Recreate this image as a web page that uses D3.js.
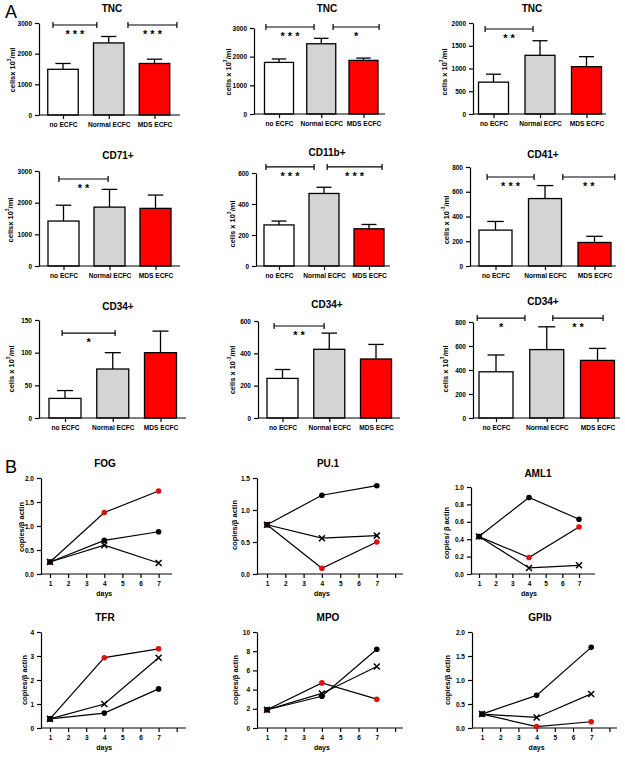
<!DOCTYPE html>
<html><head><meta charset="utf-8">
<script src="https://cdn.jsdelivr.net/npm/d3@7"></script>
<style>
body{margin:0;background:#fff;}
svg{display:block;font-family:Arial,"Liberation Sans",sans-serif;}
.tick text{font-weight:bold;}
</style></head>
<body>
<svg id="fig" width="625" height="765"></svg>
<script>
// ---------- DATA ----------
const categories = ["no ECFC", "Normal ECFC", "MDS ECFC"];
const barTitles = ["TNC", "TNC", "TNC", "CD71+", "CD11b+", "CD41+", "CD34+", "CD34+", "CD34+"];
const barMeans = [
  [1490, 2350, 1680],
  [1800, 2450, 1870],
  [700, 1290, 1040],
  [1420, 1860, 1820],
  [265, 468, 240],
  [290, 545, 190],
  [30, 75, 100],
  [245, 425, 365],
  [385, 570, 480]
];
const barErrors = [
  [190, 210, 140],
  [120, 190, 80],
  [175, 320, 220],
  [500, 560, 420],
  [25, 40, 28],
  [70, 105, 50],
  [12, 25, 33],
  [55, 100, 90],
  [140, 190, 100]
];
const barYTicks = [
  [0, 1000, 2000, 3000],
  [0, 1000, 2000, 3000],
  [0, 500, 1000, 1500, 2000],
  [0, 1000, 2000, 3000],
  [0, 200, 400, 600],
  [0, 200, 400, 600, 800],
  [0, 50, 100, 150],
  [0, 200, 400, 600],
  [0, 200, 400, 600, 800]
];
const barYLabelPre = ["cellsx 10", "cells x 10", "cells x 10", "cellsx 10", "cells x 10", "cells x 10", "cells x 10", "cells x 10", "cells x 10"];
const barYLabelSup = ["3", "3", "3", "3", "3", "-3", "3", "-3", "3"];
// significance brackets: [from (category index), to (category index), level (data units), stars]
const sigBars = [
  [[-0.22, 0.74, 2935, "* * *"], [1.42, 2.49, 2935, "* * *"]],
  [[-0.31, 0.83, 3035, "* * *"], [1.28, 2.37, 3035, "*"]],
  [[-0.18, 0.85, 1868, "* *"]],
  [[-0.10, 0.97, 2747, "* *"]],
  [[-0.29, 0.78, 639, "* * *"], [1.07, 2.29, 639, "* * *"]],
  [[-0.17, 0.78, 719, "* * *"], [1.36, 2.41, 719, "* *"]],
  [[-0.06, 1.05, 130, "*"]],
  [[-0.18, 0.89, 569, "* *"]],
  [[-0.37, 0.57, 833, "*"], [1.12, 2.11, 833, "* *"]]
];

const days = [1, 4, 7];
const dayTickLabels = [1, 2, 3, 4, 5, 6, 7];
const lineTitles = ["FOG", "PU.1", "AML1", "TFR", "MPO", "GPIb"];
const lineYLabels = ["copies/\u03b2 actin", "copies/\u03b2 actin", "copies/ \u03b2 actin", "copies/\u03b2 actin", "copies/\u03b2 actin", "copies/\u03b2 actin"];
const seriesMDS = [
  [0.25, 1.28, 1.73],
  [0.77, 0.09, 0.50],
  [0.43, 0.19, 0.54],
  [0.38, 2.93, 3.30],
  [1.9, 4.7, 3.0],
  [0.29, 0.03, 0.13]
];
const seriesNormal = [
  [0.25, 0.70, 0.88],
  [0.77, 1.23, 1.38],
  [0.43, 0.88, 0.63],
  [0.38, 0.62, 1.63],
  [1.9, 3.3, 8.2],
  [0.29, 0.68, 1.68]
];
const seriesCross = [
  [0.25, 0.60, 0.23],
  [0.77, 0.56, 0.60],
  [0.43, 0.07, 0.10],
  [0.38, 1.00, 2.93],
  [1.9, 3.6, 6.4],
  [0.29, 0.22, 0.71]
];
const lineYTicks = [
  [0, 0.5, 1.0, 1.5, 2.0],
  [0, 0.5, 1.0, 1.5],
  [0, 0.2, 0.4, 0.6, 0.8, 1.0],
  [0, 1, 2, 3, 4],
  [0, 2, 4, 6, 8, 10],
  [0, 0.5, 1.0, 1.5, 2.0]
];
const lineYFormats = [".1f", ".1f", ".1f", "d", "d", ".1f"];

// ---------- LAYOUT ----------
const barLayout = [
  {ax:39, top:23, bot:115, c0:63, c2:154.5, bw:30.5, xEnd:180, tx:112, ty:12, lx:12, ly:70},
  {ax:254, top:28, bot:114, c0:279, c2:363.5, bw:29, xEnd:385, tx:327, ty:12, lx:228, ly:72},
  {ax:473, top:23, bot:114, c0:493.5, c2:586.5, bw:30, xEnd:606, tx:532, ty:12, lx:444, ly:72},
  {ax:39, top:171, bot:266, c0:63.5, c2:155.5, bw:31, xEnd:180, tx:118, ty:159, lx:10, ly:220},
  {ax:256, top:173, bot:266, c0:279, c2:369, bw:30, xEnd:390, tx:327, ty:156, lx:232, ly:224},
  {ax:470, top:167, bot:266, c0:495.5, c2:594.5, bw:33, xEnd:616, tx:543, ty:158, lx:446, ly:220},
  {ax:39, top:320, bot:418, c0:65, c2:160.5, bw:32, xEnd:186, tx:118, ty:310, lx:11, ly:369},
  {ax:258, top:321, bot:418, c0:282.5, c2:376, bw:31, xEnd:400, tx:327, ty:308, lx:232, ly:370},
  {ax:473, top:322, bot:418, c0:496, c2:597.5, bw:34, xEnd:620, tx:543, ty:305, lx:445, ly:369}
];
const lineLayout = [
  {ax:41, x1:50, step:18.1, top:478, bot:574, xEnd:172, tx:105, ty:467, lx:21, ly:527},
  {ax:257, x1:267, step:18.3, top:478, bot:574, xEnd:403, tx:328, ty:467, lx:234, ly:525},
  {ax:471, x1:479, step:16.67, top:487, bot:574, xEnd:595, tx:538, ty:477, lx:446, ly:533},
  {ax:41, x1:50, step:18.1, top:632, bot:728, xEnd:186, tx:105, ty:621, lx:24, ly:680},
  {ax:257, x1:267, step:18.3, top:632, bot:728, xEnd:403, tx:328, ty:621, lx:235, ly:680},
  {ax:472, x1:482, step:18.2, top:632, bot:728, xEnd:617, tx:540, ty:621, lx:447, ly:680}
];
const barFills = ["#ffffff", "#d4d4d4", "#ff0000"];

const svg = d3.select("#fig");

svg.append("text").attr("x", 5).attr("y", 18).attr("font-size", 18).text("A");
svg.append("text").attr("x", 5).attr("y", 473).attr("font-size", 18).text("B");

function styleAxis(g) {
  g.selectAll("path,line").attr("stroke", "#000").attr("stroke-width", 1.2);
  g.selectAll("text").attr("font-size", 6.5).attr("font-weight", "bold").attr("fill", "#000");
}

function barChart(i) {
  const L = barLayout[i];
  const g = svg.append("g");
  const ticks = barYTicks[i];
  const y = d3.scaleLinear().domain([0, d3.max(ticks)]).range([L.bot, L.top]);
  const xc = d3.scalePoint().domain(categories).range([L.c0, L.c2]);
  const xi = d3.scaleLinear().domain([0, 2]).range([L.c0, L.c2]);

  g.append("text").attr("x", L.tx).attr("y", L.ty).attr("text-anchor", "middle")
    .attr("font-size", 10).attr("font-weight", "bold").text(barTitles[i]);
  const yl = g.append("text").attr("transform", `translate(${L.lx},${L.ly}) rotate(-90)`)
    .attr("text-anchor", "middle").attr("dominant-baseline", "central")
    .attr("font-size", 7.5).attr("font-weight", "bold");
  yl.append("tspan").text(barYLabelPre[i]);
  yl.append("tspan").attr("font-size", 5).attr("dy", -3).text(barYLabelSup[i]);
  yl.append("tspan").attr("dy", 3).text("/ml");

  const data = categories.map((c, k) => ({c, m: barMeans[i][k], e: barErrors[i][k], k}));
  g.selectAll(".err").data(data).enter().append("line")
    .attr("x1", d => xc(d.c)).attr("x2", d => xc(d.c))
    .attr("y1", d => y(d.m)).attr("y2", d => y(d.m + d.e))
    .attr("stroke", "#000").attr("stroke-width", 1.3);
  g.selectAll(".cap").data(data).enter().append("line")
    .attr("x1", d => xc(d.c) - L.bw * 0.25).attr("x2", d => xc(d.c) + L.bw * 0.25)
    .attr("y1", d => y(d.m + d.e)).attr("y2", d => y(d.m + d.e))
    .attr("stroke", "#000").attr("stroke-width", 1.3);
  g.selectAll(".bar").data(data).enter().append("rect")
    .attr("x", d => xc(d.c) - L.bw / 2).attr("width", L.bw)
    .attr("y", d => y(d.m)).attr("height", d => L.bot - y(d.m))
    .attr("fill", d => barFills[d.k]).attr("stroke", "#000").attr("stroke-width", 1.3);

  const ya = g.append("g").attr("transform", `translate(${L.ax},0)`)
    .call(d3.axisLeft(y).tickValues(ticks).tickSize(4).tickSizeOuter(0).tickPadding(3).tickFormat(d3.format("d")));
  styleAxis(ya);
  g.append("line").attr("x1", L.ax).attr("x2", L.xEnd).attr("y1", L.bot).attr("y2", L.bot)
    .attr("stroke", "#000").attr("stroke-width", 1.2);
  const xa = g.append("g").attr("transform", `translate(0,${L.bot})`)
    .call(d3.axisBottom(xc).tickSize(4).tickSizeOuter(0).tickPadding(3));
  xa.select(".domain").remove();
  styleAxis(xa);
  xa.selectAll("text").attr("font-size", 6.6);

  sigBars[i].forEach(s => {
    const x1 = xi(s[0]), x2 = xi(s[1]), yy = y(s[2]);
    g.append("line").attr("x1", x1).attr("x2", x2).attr("y1", yy).attr("y2", yy)
      .attr("stroke", "#000").attr("stroke-width", 1.2);
    [x1, x2].forEach(xx => g.append("line").attr("x1", xx).attr("x2", xx)
      .attr("y1", yy - 3).attr("y2", yy + 3).attr("stroke", "#000").attr("stroke-width", 1.2));
    g.append("text").attr("x", (x1 + x2) / 2).attr("y", yy + 13).attr("text-anchor", "middle")
      .attr("font-size", 11).attr("font-weight", "bold").text(s[3]);
  });
}

function lineChart(i) {
  const L = lineLayout[i];
  const g = svg.append("g");
  const ticks = lineYTicks[i];
  const y = d3.scaleLinear().domain([0, d3.max(ticks)]).range([L.bot, L.top]);
  const x = d3.scaleLinear().domain([1, 7]).range([L.x1, L.x1 + 6 * L.step]);

  g.append("text").attr("x", L.tx).attr("y", L.ty).attr("text-anchor", "middle")
    .attr("font-size", 10).attr("font-weight", "bold").text(lineTitles[i]);
  g.append("text").attr("transform", `translate(${L.lx},${L.ly}) rotate(-90)`)
    .attr("text-anchor", "middle").attr("dominant-baseline", "central")
    .attr("font-size", 7.5).attr("font-weight", "bold").text(lineYLabels[i]);

  const ya = g.append("g").attr("transform", `translate(${L.ax},0)`)
    .call(d3.axisLeft(y).tickValues(ticks).tickSize(4).tickSizeOuter(0).tickPadding(3).tickFormat(d3.format(lineYFormats[i])));
  styleAxis(ya);
  g.append("line").attr("x1", L.ax).attr("x2", L.xEnd).attr("y1", L.bot).attr("y2", L.bot)
    .attr("stroke", "#000").attr("stroke-width", 1.2);
  const tv = d3.range(1, 9).filter(d => x(d) <= L.xEnd);
  const xa = g.append("g").attr("transform", `translate(0,${L.bot})`)
    .call(d3.axisBottom(x).tickValues(tv).tickSize(4).tickSizeOuter(0).tickPadding(3)
      .tickFormat(d => dayTickLabels.includes(d) ? d : ""));
  xa.select(".domain").remove();
  styleAxis(xa);
  g.append("text").attr("x", x(4)).attr("y", L.bot + 22).attr("text-anchor", "middle")
    .attr("font-size", 7).attr("font-weight", "bold").text("days");

  const line = d3.line().x((d, k) => x(days[k])).y(d => y(d));
  [seriesMDS[i], seriesCross[i], seriesNormal[i]].forEach(s => {
    g.append("path").datum(s).attr("d", line).attr("fill", "none")
      .attr("stroke", "#000").attr("stroke-width", 1.2);
  });
  g.selectAll(".r").data(seriesMDS[i]).enter().append("circle")
    .attr("cx", (d, k) => x(days[k])).attr("cy", d => y(d)).attr("r", 2.8)
    .attr("fill", "#e01010");
  seriesCross[i].forEach((d, k) => {
    const cx = x(days[k]), cy = y(d), s = 3;
    g.append("path").attr("d", `M${cx - s},${cy - s}L${cx + s},${cy + s}M${cx - s},${cy + s}L${cx + s},${cy - s}`)
      .attr("stroke", "#000").attr("stroke-width", 1.5);
  });
  g.selectAll(".b").data(seriesNormal[i]).enter().append("circle")
    .attr("cx", (d, k) => x(days[k])).attr("cy", d => y(d)).attr("r", 2.8)
    .attr("fill", "#000");
}

for (let i = 0; i < 9; i++) barChart(i);
for (let i = 0; i < 6; i++) lineChart(i);
</script>
</body></html>
